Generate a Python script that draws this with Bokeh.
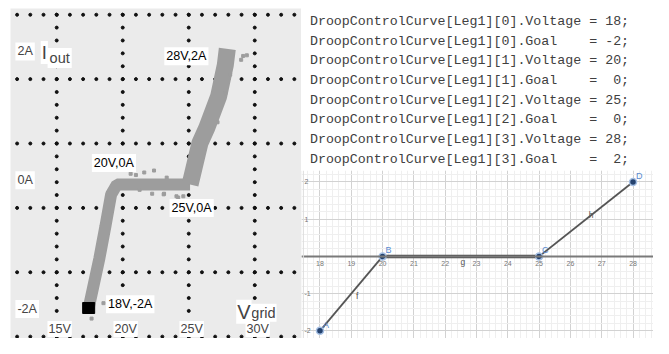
import numpy as np
from bokeh.plotting import figure
from bokeh.models import Range1d, Label, Grid, FixedTicker, Span
from bokeh.layouts import row, column
from bokeh.embed import file_html
from bokeh.resources import INLINE
from bokeh.core.properties import value

# ---------------- data ----------------
# droop control curve set points (from the code listing)
voltages = [18, 20, 25, 28]
goals = [-2, 0, 0, 2]
point_names = ["A", "B", "C", "D"]
segment_names = ["f", "g", "h"]

# scope screen calibration
scope_v_ticks = [15, 20, 25, 30]
scope_a_ticks = [2, 0, -2]
scope_h_grid = [2.57, 1.57, 0.57, -0.43, -1.43, -2.43]

# measured operating points (centre line of the grey band)
band_low_v = [17.42, 18.23, 18.68, 19.12, 19.56, 25.10]
band_low_a = [-1.985, -1.215, -0.726, -0.222, -0.067, -0.067]
band_up_v = [25.10, 25.85, 26.37, 27.26, 27.77, 27.92]
band_up_a = [-0.067, 0.578, 0.815, 1.30, 1.79, 2.04]
blob_v = [17.42]
blob_a = [-1.985]
stray_v = [29.12, 28.97, 28.14, 29.40, 27.18, 27.77, 21.28, 23.13, 24.07, 21.63,
           22.37, 23.33, 24.59, 18.54, 17.64, 22.23, 23.10, 24.20, 20.60, 21.00]
stray_a = [1.93, 1.87, 1.64, 1.94, 0.90, 1.35, -0.15, -0.21, -0.25, 0.12,
           0.15, 0.04, -0.25, -1.91, -2.15, -0.21, -0.22, -0.27, 0.10, 0.08]

# geogebra panel ticks
geo_x_ticks = list(range(18, 29))
geo_y_ticks = [2, 1, -1, -2]

SANS = "Liberation Sans"
# the 669x354 picture is fitted into 653x338
SX, SY = 653 / 669, 338 / 354


def ox(px):
    return px * SX


def oy(py):
    return py * SY


# ---------------- left: scope picture ----------------
x0, x1 = 11.50, 33.54
y0, y1 = -2.459, 2.667
p1 = figure(width=301, height=338, x_range=Range1d(x0, x1), y_range=Range1d(y0, y1),
            x_axis_type=None, y_axis_type=None, output_backend="svg",
            toolbar_location=None, min_border=0, min_border_left=10, min_border_top=8,
            background_fill_color="#ebebeb", border_fill_color="white",
            outline_line_color=None)

# dotted graticule
dot_v = np.arange(12, 34)
hx = [v for a in scope_h_grid for v in dot_v]
hy = [a for a in scope_h_grid for v in dot_v]
dot_a = np.arange(scope_h_grid[-1], scope_h_grid[0] + 0.01, 0.2)
vx = [v for v in scope_v_ticks for a in dot_a]
vy = [a for v in scope_v_ticks for a in dot_a]
p1.scatter(hx + vx, hy + vy, marker="circle", size=3.0, color="#111111")

# measured band
p1.line(band_low_v, band_low_a, line_width=12, color="#9d9d9d")
p1.line(band_up_v, band_up_a, line_width=17, color="#9d9d9d")
p1.scatter(stray_v, stray_a, marker="square", size=3, color="#9d9d9d")
p1.rect(blob_v, blob_a, width=12, height=11, width_units="screen",
        height_units="screen", color="black")

FS = "12.6px"
# annotations of set points
lab_dx = [10, -9, 3, -43]
lab_dy = [5, 18, -29, -5]
lab_align = ["left", "center", "center", "center"]
for v, g, dx, dy, al in zip(voltages, goals, lab_dx, lab_dy, lab_align):
    p1.add_layout(Label(x=v, y=g, x_offset=ox(dx), y_offset=oy(dy), text=f"{v}V,{g}A",
                        text_font=SANS, text_font_size=FS, text_color="black",
                        text_align=al, text_baseline="middle",
                        background_fill_color="white", padding=2))

for a in scope_a_ticks:
    p1.add_layout(Label(x=x0, y=a, x_offset=ox(5), text=f"{a}A", text_font=SANS,
                        text_font_size=FS, text_align="left", text_baseline="middle",
                        background_fill_color="white", padding=2))

# axis titles: subscript box first, big letter on top
p1.add_layout(Label(x=x0, y=scope_a_ticks[0], x_offset=ox(38), y_offset=oy(-7), text="out",
                    text_font=SANS, text_font_size="14.5px", text_baseline="alphabetic",
                    background_fill_color="white", padding=2))
p1.add_layout(Label(x=x0, y=scope_a_ticks[0], x_offset=ox(31), y_offset=oy(-1), text="I",
                    text_font=SANS, text_font_size="18.5px", text_baseline="alphabetic",
                    background_fill_color="white", padding=1))
p1.add_layout(Label(x=scope_v_ticks[-1], y=scope_a_ticks[-1], x_offset=ox(-4.5), y_offset=oy(-4),
                    text="grid", text_font=SANS, text_font_size="14.5px",
                    text_baseline="alphabetic", background_fill_color="white", padding=1))
p1.add_layout(Label(x=scope_v_ticks[-1], y=scope_a_ticks[-1], x_offset=ox(-19), y_offset=oy(-3),
                    text="V", text_font=SANS, text_font_size="20px",
                    text_baseline="alphabetic", background_fill_color="white", padding=1))

for v in scope_v_ticks:
    p1.add_layout(Label(x=v, y=y0, x_offset=ox(3), y_offset=oy(10), text=f"{v}V", text_font=SANS,
                        text_font_size=FS, text_align="center", text_baseline="middle",
                        background_fill_color="white", padding=1))

# ---------------- top right: code listing ----------------
code_lines = []
for i, (v, g) in enumerate(zip(voltages, goals)):
    code_lines.append(f"DroopControlCurve[Leg1][{i}].Voltage = {v};".replace(" ", "\u00a0"))
    code_lines.append(f"DroopControlCurve[Leg1][{i}].Goal    = {g:>2};".replace(" ", "\u00a0"))

p2 = figure(width=352, height=170, x_range=Range1d(0, 352),
            y_range=Range1d(7.573, -1.068), x_axis_type=None, y_axis_type=None,
            output_backend="svg", toolbar_location=None, min_border=0,
            background_fill_color="white", outline_line_color=None)
p2.text(x=ox(317) - 301, y=list(range(len(code_lines))), text=code_lines,
        text_font=value("Liberation Mono"), text_font_size="13.3px",
        text_color="#404040", text_baseline="middle", text_align="left")

# ---------------- bottom right: geogebra plot ----------------
gx0, gx1 = 17.41, 28.654
gy0, gy1 = -2.205, 2.308
p3 = figure(width=352, height=168, x_range=Range1d(gx0, gx1), y_range=Range1d(gy0, gy1),
            x_axis_type=None, y_axis_type=None, output_backend="svg",
            toolbar_location=None, min_border=0, background_fill_color="white",
            outline_line_color=None)
xt = FixedTicker(ticks=list(range(17, 30)), minor_ticks=list(np.round(np.arange(17, 29.01, 0.2), 2)))
yt = FixedTicker(ticks=list(range(-3, 4)), minor_ticks=list(np.round(np.arange(-3, 3.01, 0.2), 2)))
for dim, tk in ((0, xt), (1, yt)):
    p3.add_layout(Grid(dimension=dim, ticker=tk, grid_line_color="#d2d2d2",
                       grid_line_width=1, minor_grid_line_color="#efefef"))
p3.add_layout(Span(location=0, dimension="width", line_color="#7a7a7a", line_width=2))
p3.add_layout(Span(location=gx0 + 0.06, dimension="height", line_color="#dddddd", line_width=1))

for t in geo_x_ticks:
    p3.add_layout(Label(x=t, y=0, y_offset=-7, text=str(t), text_font=SANS,
                        text_font_size="7px", text_color="#777777",
                        text_align="center", text_baseline="middle"))
for t in geo_y_ticks:
    p3.add_layout(Label(x=gx0, y=t, x_offset=3, text=str(t), text_font=SANS,
                        text_font_size="7px", text_color="#777777",
                        text_align="left", text_baseline="middle"))

seg_w = [1.8, 3.5, 1.8]
seg_c = ["#555555", "#4a4a4a", "#555555"]
seg_dx = [6, 2, 5]
seg_dy = [-2, -6, 4]
for k in range(3):
    xs = voltages[k:k + 2]
    ys = goals[k:k + 2]
    p3.line(xs, ys, line_width=seg_w[k], color=seg_c[k])
    p3.add_layout(Label(x=sum(xs) / 2, y=sum(ys) / 2, x_offset=seg_dx[k], y_offset=seg_dy[k],
                        text=segment_names[k], text_font=SANS, text_font_size="8.5px",
                        text_color="#555555", text_align="center", text_baseline="middle"))

p3.scatter(voltages, goals, marker="circle", size=7, fill_color="#24426e",
           line_color="#a6c0e4", line_width=1.5)
for v, g, n in zip(voltages, goals, point_names):
    p3.add_layout(Label(x=v, y=g, x_offset=3, y_offset=6, text=n, text_font=SANS,
                        text_font_size="9px", text_color="#5a8ad0",
                        text_align="left", text_baseline="middle"))

layout = row(p1, column(p2, p3, spacing=0), spacing=0)
open("out.html", "w").write(file_html(layout, INLINE))
